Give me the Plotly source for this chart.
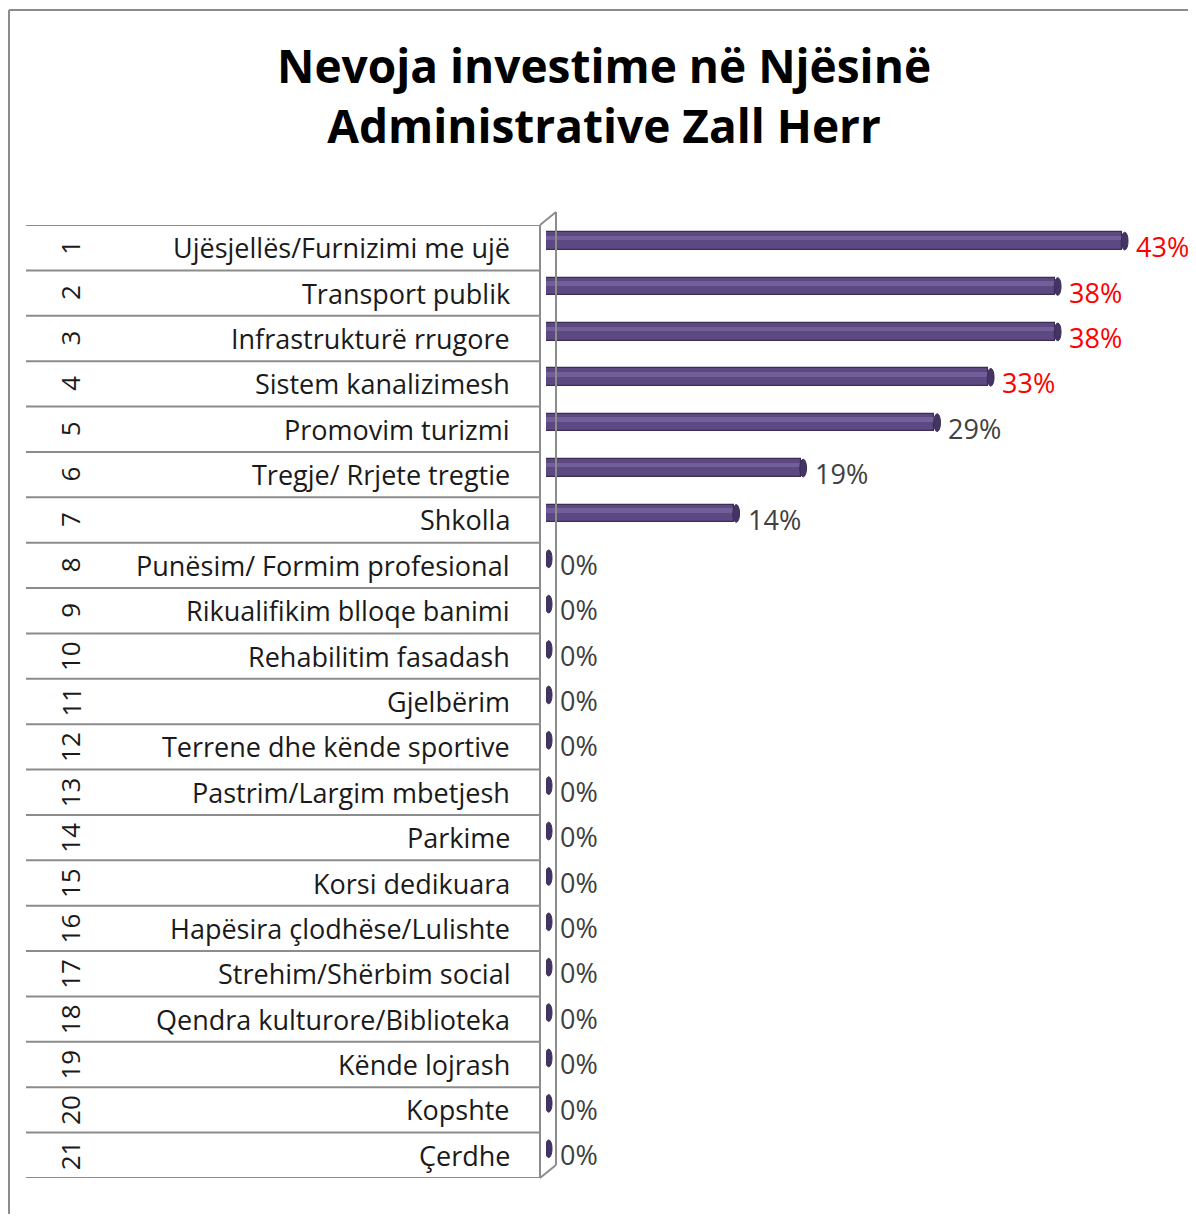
import plotly.graph_objs as go

# page body has an 8px margin, so the figure is sized to fit inside it
OFF = 8
W, H = 1196 - 2 * OFF, 1222 - 2 * OFF

title_lines = ["Nevoja investime në Njësinë", "Administrative Zall Herr"]
row_numbers = list(range(1, 22))
categories = [
    "Ujësjellës/Furnizimi me ujë",
    "Transport publik",
    "Infrastrukturë rrugore",
    "Sistem kanalizimesh",
    "Promovim turizmi",
    "Tregje/ Rrjete tregtie",
    "Shkolla",
    "Punësim/ Formim profesional",
    "Rikualifikim blloqe banimi",
    "Rehabilitim fasadash",
    "Gjelbërim",
    "Terrene dhe kënde sportive",
    "Pastrim/Largim mbetjesh",
    "Parkime",
    "Korsi dedikuara",
    "Hapësira çlodhëse/Lulishte",
    "Strehim/Shërbim social",
    "Qendra kulturore/Biblioteka",
    "Kënde lojrash",
    "Kopshte",
    "Çerdhe",
]
values = [43, 38, 38, 33, 29, 19, 14, 0, 0, 0, 0, 0, 0, 0, 0, 0, 0, 0, 0, 0, 0]
value_labels = [f"{v}%" for v in values]
label_colors = ["#ff0000"] * 4 + ["#404040"] * 17

FONT = "Open Sans"


def px(p):
    return (p - OFF) / W


def py(p):
    return 1 - (p - OFF) / H


n = len(categories)
idx = list(range(n))
table_top, table_bottom = 225, 1178
x0_px = 546
scale = (1122 - x0_px) / 43.0
x_max = (W + OFF - x0_px) / scale

fig = go.Figure()

# cylinder body
fig.add_trace(go.Bar(
    y=idx, x=values, orientation="h",
    width=0.39, offset=-0.34,
    marker=dict(color="#5d4982", line=dict(color="#3b2d57", width=1.2)),
    hoverinfo="skip", showlegend=False,
))
# highlight stripe
fig.add_trace(go.Bar(
    y=idx, x=values, orientation="h",
    width=0.1, offset=-0.26,
    marker=dict(color="#7a66a0", line=dict(width=0)),
    opacity=0.75,
    hoverinfo="skip", showlegend=False,
))

shapes = []
# end caps (ellipses)
for i, v in enumerate(values):
    shapes.append(dict(
        type="circle", xref="x", yref="y",
        x0=v - 0.05, x1=v + 0.45, y0=i - 0.34, y1=i + 0.05,
        fillcolor="#433463", line=dict(color="#3b2d57", width=1),
        layer="above",
    ))

# table lines
line_col = "#8c8c8c"
for k in range(n + 1):
    shapes.append(dict(
        type="line", xref="paper", yref="y",
        x0=px(26), x1=px(540), y0=k - 0.5, y1=k - 0.5,
        line=dict(color=line_col, width=2),
    ))
# front & back wall, 3d edges
shapes += [
    dict(type="line", xref="paper", yref="paper",
         x0=px(540), x1=px(540), y0=py(table_top), y1=py(table_bottom),
         line=dict(color=line_col, width=2)),
    dict(type="line", xref="paper", yref="paper",
         x0=px(556), x1=px(556), y0=py(table_top - 13), y1=py(table_bottom - 13),
         line=dict(color=line_col, width=2)),
    dict(type="line", xref="paper", yref="paper",
         x0=px(540), x1=px(556), y0=py(table_top), y1=py(table_top - 13),
         line=dict(color=line_col, width=2)),
    dict(type="line", xref="paper", yref="paper",
         x0=px(540), x1=px(556), y0=py(table_bottom), y1=py(table_bottom - 13),
         line=dict(color=line_col, width=2)),
    # outer chart border
    dict(type="line", xref="paper", yref="paper",
         x0=px(9), x1=px(1200), y0=py(10), y1=py(10),
         line=dict(color="#8c8c8c", width=2)),
    dict(type="line", xref="paper", yref="paper",
         x0=px(9), x1=px(9), y0=py(10), y1=py(1230),
         line=dict(color="#8c8c8c", width=2)),
]

annotations = []
for i in idx:
    annotations.append(dict(
        xref="paper", yref="y", x=px(70), y=i, xanchor="center",
        text=str(row_numbers[i]), textangle=-90, showarrow=False,
        font=dict(family=FONT, size=26, color="#1a1a1a"),
    ))
    annotations.append(dict(
        xref="paper", yref="y", x=px(512), y=i, xanchor="right",
        text=categories[i], showarrow=False,
        font=dict(family=FONT, size=27, color="#1a1a1a"),
    ))
    annotations.append(dict(
        xref="x", yref="y", x=values[i], y=i - 0.02, xanchor="left",
        xshift=12, text=value_labels[i], showarrow=False,
        font=dict(family=FONT, size=27, color=label_colors[i]),
    ))

annotations.append(dict(
    xref="paper", yref="paper", x=px(604), y=py(95), yanchor="middle",
    text="<b>" + "<br>".join(title_lines) + "</b>", showarrow=False,
    font=dict(family=FONT, size=46, color="#000000"),
))

fig.update_layout(
    width=W, height=H,
    margin=dict(l=0, r=0, t=0, b=0),
    paper_bgcolor="white", plot_bgcolor="white",
    bargap=0, barmode="overlay",
    xaxis=dict(domain=[px(x0_px), 1], range=[0, x_max], visible=False),
    yaxis=dict(domain=[py(table_bottom), py(table_top)], range=[n - 0.5, -0.5],
               visible=False),
    shapes=shapes, annotations=annotations,
)

fig.write_html("out.html")
